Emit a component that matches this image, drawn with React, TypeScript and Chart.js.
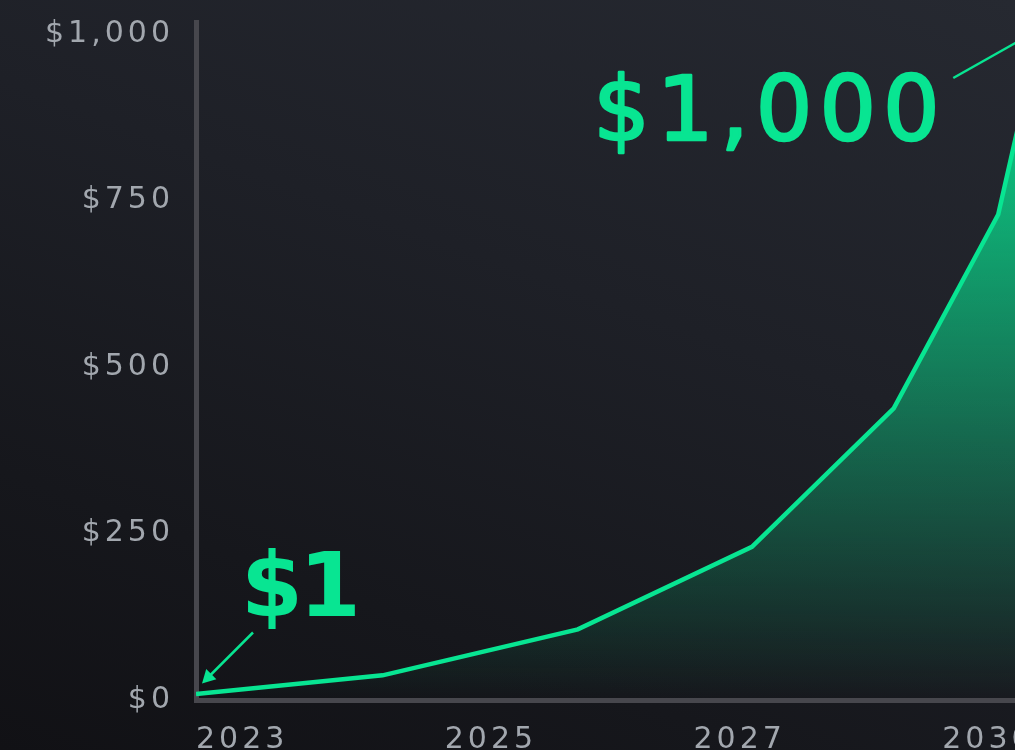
import React, { useEffect, useRef } from "react";
import { Chart, registerables } from "chart.js";

Chart.register(...registerables);

// ---- data ----
const xTickValues = [0, 2, 4, 6];
const xTickLabels = ["2023", "2025", "2027", "2030"];
const yTickValues = [0, 250, 500, 750, 1000];
const pointX = [0, 1.5, 3.07, 4.47, 5.61, 6.45, 6.78];
const pointY = [9, 37, 106, 230, 438, 729, 1000];
const startLabel = "$1";
const endLabel = "$1,000";

const GREEN = "#08e592";
const TICK_COLOR = "#a2a7ae";
const AXIS_COLOR = "#47474d";
const TICK_FONT = { family: '"DejaVu Sans", sans-serif', size: 30, weight: "normal" as any };

const CANVAS_W = 1191;
const CANVAS_H = 800;

const annotationPlugin = {
  id: "bigLabels",
  beforeDraw(chart: any) {
    (chart.ctx as any).letterSpacing = "4px";
  },
  afterDraw(chart: any) {
    const { ctx, scales } = chart;
    const x = scales.x;
    const y = scales.y;
    const last = pointX.length - 1;
    const p0x = x.getPixelForValue(pointX[0]);
    const p0y = y.getPixelForValue(pointY[0]);
    const nx = x.getPixelForValue(pointX[last]);
    const ny = y.getPixelForValue(pointY[last]);

    ctx.save();
    ctx.fillStyle = GREEN;
    ctx.strokeStyle = GREEN;
    ctx.textAlign = "left";
    ctx.textBaseline = "alphabetic";

    // "$1" label + arrow
    (ctx as any).letterSpacing = "-4px";
    ctx.font = 'bold 89px "DejaVu Sans", sans-serif';
    ctx.fillText(startLabel, p0x + 45, p0y - 78);

    const ax1 = p0x + 57, ay1 = p0y - 61.5;
    const ax2 = p0x + 6, ay2 = p0y - 10.5;
    ctx.lineWidth = 2.5;
    ctx.beginPath();
    ctx.moveTo(ax1, ay1);
    ctx.lineTo(ax2 + 6, ay2 - 6);
    ctx.stroke();
    const ang = Math.atan2(ay2 - ay1, ax2 - ax1);
    const hl = 15, hw = 0.5;
    ctx.beginPath();
    ctx.moveTo(ax2, ay2);
    ctx.lineTo(ax2 - hl * Math.cos(ang - hw), ay2 - hl * Math.sin(ang - hw));
    ctx.lineTo(ax2 - hl * Math.cos(ang + hw), ay2 - hl * Math.sin(ang + hw));
    ctx.closePath();
    ctx.fill();

    // "$1,000" label + leader line
    (ctx as any).letterSpacing = "7px";
    ctx.font = 'normal 89px "DejaVu Sans", sans-serif';
    ctx.lineWidth = 2.5;
    ctx.lineJoin = "round";
    ctx.fillText(endLabel, nx - 446, ny + 106);
    ctx.strokeText(endLabel, nx - 446, ny + 106);

    ctx.lineWidth = 2.5;
    ctx.beginPath();
    ctx.moveTo(nx - 86, ny + 44);
    ctx.lineTo(nx - 8, ny);
    ctx.stroke();
    ctx.restore();
    (ctx as any).letterSpacing = "0px";
  },
};

export default function App() {
  const canvasRef = useRef<HTMLCanvasElement | null>(null);

  useEffect(() => {
    const canvas = canvasRef.current;
    if (!canvas) return;
    const chart = new Chart(canvas, {
      type: "line",
      data: {
        datasets: [
          {
            data: pointX.map((v, i) => ({ x: v, y: pointY[i] })),
            borderColor: GREEN,
            borderWidth: 4.5,
            pointRadius: 0,
            tension: 0,
            fill: "origin",
            backgroundColor: (c: any) => {
              const ch = c.chart;
              const ca = ch.chartArea;
              if (!ca) return "rgba(0,0,0,0)";
              const g = ch.ctx.createLinearGradient(0, ca.top, 0, ca.bottom);
              g.addColorStop(0, "rgba(8,229,146,0.95)");
              g.addColorStop(0.28, "rgba(8,229,146,0.7)");
              g.addColorStop(0.6, "rgba(8,229,146,0.38)");
              g.addColorStop(0.85, "rgba(8,229,146,0.14)");
              g.addColorStop(1, "rgba(8,229,146,0)");
              return g;
            },
          },
        ],
      },
      options: {
        animation: false,
        responsive: false,
        devicePixelRatio: 1,
        layout: { padding: { top: 22, left: 0, right: 0, bottom: 0 } },
        plugins: {
          legend: { display: false },
          tooltip: { enabled: false },
        },
        scales: {
          x: {
            type: "linear",
            min: 0,
            max: 8,
            afterBuildTicks: (s: any) => {
              s.ticks = xTickValues.map((v) => ({ value: v }));
            },
            afterFit: (s: any) => {
              s.height = 100;
              s.paddingLeft = 0;
              s.paddingRight = 0;
            },
            grid: { display: true, color: "rgba(0,0,0,0)", drawTicks: false },
            border: { display: true, color: AXIS_COLOR, width: 5 },
            ticks: {
              autoSkip: false,
              maxRotation: 0,
              align: "start",
              padding: 22,
              color: TICK_COLOR,
              font: TICK_FONT,
              callback: (_v: any, i: number) => xTickLabels[i],
            },
          },
          y: {
            type: "linear",
            min: 0,
            max: 1018,
            afterBuildTicks: (s: any) => {
              s.ticks = yTickValues.map((v) => ({ value: v }));
            },
            afterFit: (s: any) => {
              s.width = 196;
              s.paddingTop = 0;
              s.paddingBottom = 0;
            },
            grid: { display: true, color: "rgba(0,0,0,0)", drawTicks: false },
            border: { display: true, color: AXIS_COLOR, width: 5 },
            ticks: {
              padding: 22,
              color: TICK_COLOR,
              font: TICK_FONT,
              callback: (v: any) => "$" + Number(v).toLocaleString("en-US"),
            },
          },
        },
      } as any,
      plugins: [annotationPlugin],
    });
    return () => chart.destroy();
  }, []);

  return (
    <div
      style={{
        position: "fixed",
        left: 0,
        top: 0,
        width: 1015,
        height: 750,
        overflow: "hidden",
        background:
          "linear-gradient(200deg, #262931 0%, #1e2027 40%, #16171c 75%, #111115 100%)",
      }}
    >
      <canvas
        ref={canvasRef}
        width={CANVAS_W}
        height={CANVAS_H}
        style={{ display: "block", width: CANVAS_W, height: CANVAS_H }}
      />
    </div>
  );
}
